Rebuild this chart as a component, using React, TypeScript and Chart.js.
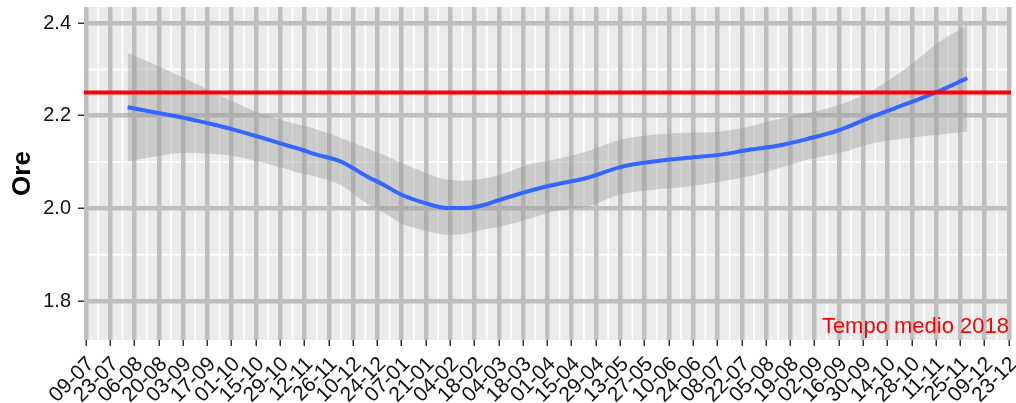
import { useEffect, useRef } from "react";
import { Chart, registerables } from "chart.js";

Chart.register(...registerables);

// Tick labels every 14 days, starting 09-07-2017
const tickLabels = [
  "09-07", "23-07", "06-08", "20-08", "03-09", "17-09", "01-10", "15-10", "29-10",
  "12-11", "26-11", "10-12", "24-12", "07-01", "21-01", "04-02", "18-02", "04-03",
  "18-03", "01-04", "15-04", "29-04", "13-05", "27-05", "10-06", "24-06", "08-07",
  "22-07", "05-08", "19-08", "02-09", "16-09", "30-09", "14-10", "28-10", "11-11",
  "25-11", "09-12", "23-12",
];
const tickStepDays = 14;

// Smoothed series (days since 09-07)
const dayOffsets = [
  24, 40, 57, 71, 85, 99, 113, 124, 132, 147, 162, 172, 181, 195, 208, 220, 230,
  239, 256, 270, 289, 308, 327, 347, 366, 383, 397, 416, 435, 454, 474, 491, 508,
];
const fitValues = [
  2.218, 2.207, 2.195, 2.183, 2.17, 2.155, 2.139, 2.127, 2.117, 2.101, 2.069, 2.05,
  2.031, 2.012, 2.001, 2.001, 2.008, 2.019, 2.038, 2.051, 2.066, 2.089, 2.101, 2.109,
  2.116, 2.127, 2.134, 2.15, 2.17, 2.199, 2.227, 2.252, 2.281,
];
const upperValues = [
  2.335, 2.31, 2.28, 2.255, 2.23, 2.207, 2.19, 2.18, 2.172, 2.152, 2.13, 2.115,
  2.099, 2.078, 2.062, 2.06, 2.065, 2.073, 2.096, 2.105, 2.123, 2.148, 2.159, 2.163,
  2.166, 2.177, 2.191, 2.206, 2.224, 2.256, 2.306, 2.357, 2.396,
];
const lowerValues = [
  2.101, 2.112, 2.12, 2.118, 2.113, 2.101, 2.088, 2.075, 2.069, 2.05, 2.01, 1.99,
  1.969, 1.952, 1.943, 1.946, 1.955, 1.961, 1.978, 1.994, 2.004, 2.03, 2.04, 2.047,
  2.058, 2.07, 2.084, 2.105, 2.12, 2.141, 2.152, 2.159, 2.166,
];

const yTickValues = [1.8, 2.0, 2.2, 2.4];
const yMinorValues = [1.9, 2.1, 2.3];
const referenceValue = 2.25;
const referenceLabel = "Tempo medio 2018";
const yTitle = "Ore";

const FONT = "'Liberation Sans', Arial, sans-serif";

export default function App() {
  const ref = useRef<HTMLCanvasElement>(null);

  useEffect(() => {
    if (!ref.current) return;
    const lastTick = (tickLabels.length - 1) * tickStepDays;
    const xMin = -1.15;
    const xMax = lastTick + 1.2;

    const panelPlugin = {
      id: "panel",
      beforeDraw(chart: any) {
        const { ctx, chartArea: a, scales } = chart;
        ctx.save();
        ctx.fillStyle = "#ffffff";
        ctx.fillRect(0, 0, chart.width, chart.height);
        ctx.fillStyle = "#ebebeb";
        ctx.fillRect(a.left, a.top, a.right - a.left, a.bottom - a.top);
        ctx.beginPath();
        ctx.rect(a.left, a.top, a.right - a.left, a.bottom - a.top);
        ctx.clip();
        ctx.strokeStyle = "#ffffff";
        ctx.lineWidth = 1.6;
        for (let i = 0; i < tickLabels.length - 1; i++) {
          const px = scales.x.getPixelForValue((i + 0.5) * tickStepDays);
          ctx.beginPath();
          ctx.moveTo(px, a.top);
          ctx.lineTo(px, a.bottom);
          ctx.stroke();
        }
        for (const v of yMinorValues) {
          const py = scales.y.getPixelForValue(v);
          ctx.beginPath();
          ctx.moveTo(a.left, py);
          ctx.lineTo(a.right, py);
          ctx.stroke();
        }
        ctx.restore();
      },
      afterDraw(chart: any) {
        const { ctx, chartArea: a } = chart;
        ctx.save();
        ctx.font = `22px ${FONT}`;
        ctx.fillStyle = "#ff0000";
        ctx.textAlign = "right";
        ctx.textBaseline = "alphabetic";
        ctx.fillText(referenceLabel, a.right - 2, a.bottom - 7);
        ctx.restore();
      },
    };

    const chart = new Chart(ref.current, {
      type: "line",
      data: {
        datasets: [
          {
            label: "ref",
            data: [
              { x: xMin, y: referenceValue },
              { x: xMax, y: referenceValue },
            ],
            borderColor: "#ff0000",
            borderWidth: 4,
            pointRadius: 0,
            fill: false,
            order: 0,
          },
          {
            label: "fit",
            data: dayOffsets.map((d, i) => ({ x: d, y: fitValues[i] })),
            borderColor: "#3366ff",
            borderWidth: 4,
            pointRadius: 0,
            cubicInterpolationMode: "monotone",
            fill: false,
            borderCapStyle: "butt",
            order: 1,
          },
          {
            label: "upper",
            data: dayOffsets.map((d, i) => ({ x: d, y: upperValues[i] })),
            borderWidth: 0,
            borderColor: "rgba(0,0,0,0)",
            backgroundColor: "rgba(153,153,153,0.4)",
            pointRadius: 0,
            cubicInterpolationMode: "monotone",
            fill: "+1",
            order: 2,
          },
          {
            label: "lower",
            data: dayOffsets.map((d, i) => ({ x: d, y: lowerValues[i] })),
            borderWidth: 0,
            borderColor: "rgba(0,0,0,0)",
            pointRadius: 0,
            cubicInterpolationMode: "monotone",
            fill: false,
            order: 3,
          },
        ],
      },
      options: {
        animation: false,
        responsive: true,
        maintainAspectRatio: false,
        layout: { padding: { left: 0, top: 7, right: 5, bottom: 0 } },
        plugins: {
          legend: { display: false },
          tooltip: { enabled: false },
        },
        font: { family: FONT },
        scales: {
          x: {
            type: "linear",
            min: xMin,
            max: xMax,
            afterBuildTicks(scale: any) {
              scale.ticks = tickLabels.map((_, i) => ({ value: i * tickStepDays }));
            },
            afterFit(scale: any) {
              scale.height = 63;
              scale.paddingLeft = 0;
              scale.paddingRight = 0;
              scale.paddingTop = 0;
              scale.paddingBottom = 0;
            },
            border: { display: false },
            grid: {
              color: "#bebebe",
              lineWidth: 4.5,
              tickColor: "#333333",
              tickWidth: 1.5,
              tickLength: 6,
            },
            ticks: {
              autoSkip: false,
              minRotation: 45,
              maxRotation: 45,
              padding: 6,
              labelOffset: 5,
              color: "#111111",
              font: { family: FONT, size: 21 },
              callback(value: any) {
                const idx = Math.round(Number(value) / tickStepDays);
                return tickLabels[idx] ?? "";
              },
            },
          },
          y: {
            type: "linear",
            min: 1.716,
            max: 2.4345,
            afterBuildTicks(scale: any) {
              scale.ticks = yTickValues.map((v) => ({ value: v }));
            },
            afterFit(scale: any) {
              scale.width = 84;
              scale.paddingLeft = 0;
              scale.paddingRight = 0;
              scale.paddingTop = 0;
              scale.paddingBottom = 0;
            },
            border: { display: false },
            grid: {
              color: "#bebebe",
              lineWidth: 4.5,
              tickColor: "#333333",
              tickWidth: 1.5,
              tickLength: 6,
            },
            ticks: {
              padding: 7,
              color: "#111111",
              font: { family: FONT, size: 20 },
              callback(value: any) {
                return Number(value).toFixed(1);
              },
            },
            title: {
              display: true,
              text: yTitle,
              color: "#000000",
              font: { family: FONT, size: 26, weight: "bold" },
              padding: { top: 7, bottom: 0 },
            },
          },
        },
      },
      plugins: [panelPlugin],
    } as any);

    return () => chart.destroy();
  }, []);

  return (
    <div
      style={{
        position: "fixed",
        left: 0,
        top: 0,
        width: 1016,
        height: 403,
        background: "#ffffff",
      }}
    >
      <canvas ref={ref} />
    </div>
  );
}
